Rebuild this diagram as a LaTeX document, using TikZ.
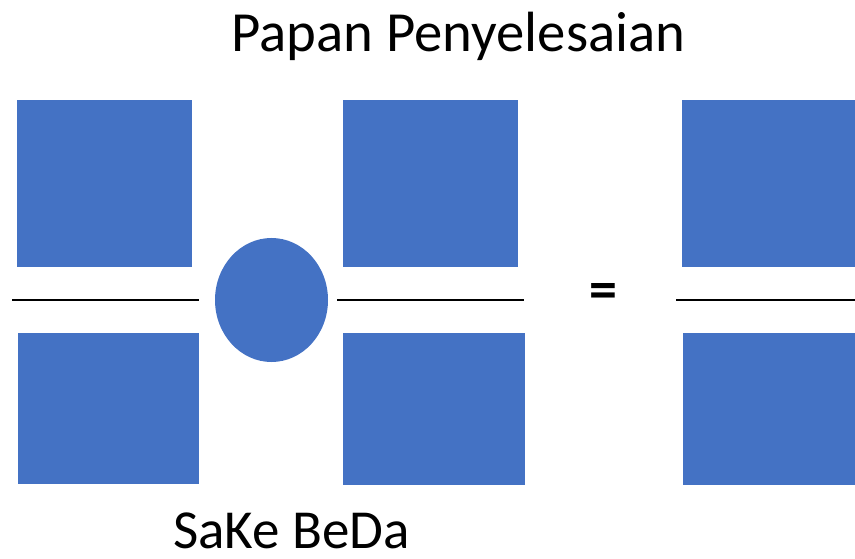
\documentclass[tikz,border=0pt]{standalone}
\usepackage{fontspec}
\setmainfont{Carlito}
\usetikzlibrary{shapes.geometric}
\definecolor{boxblue}{HTML}{4472C4}
\begin{document}
\begin{tikzpicture}[x=1pt,y=-1pt,
  tile/.style={fill=boxblue, draw=none, inner sep=0pt, outer sep=0pt, anchor=north west},
  bar/.style={draw=black, line width=2.6pt},
  label/.style={inner sep=0pt, anchor=base}]
\useasboundingbox (0,0) rectangle (855,559);
% title
\node[label, font=\fontsize{56.7}{66}\selectfont] (title) at (458.5,52) {Papan Penyelesaian};
% left fraction
\node[tile, minimum width=175pt, minimum height=167pt] (tl) at (17,100) {};
\node[tile, minimum width=181pt, minimum height=151pt] (bl) at (18,333) {};
\coordinate (l1) at (12,300); \coordinate (l2) at (199,300);
\draw[bar] (l1) -- (l2);
% operator circle
\node[fill=boxblue, draw=none, ellipse, inner sep=0pt, minimum width=113pt, minimum height=124pt] (op) at (271.5,300) {};
% middle fraction
\node[tile, minimum width=175pt, minimum height=167pt] (tm) at (343,100) {};
\node[tile, minimum width=182pt, minimum height=152pt] (bm) at (343,333) {};
\coordinate (m1) at (337,300); \coordinate (m2) at (524,300);
\draw[bar] (m1) -- (m2);
% equals
\node[inner sep=0pt, font=\bfseries\fontsize{56}{60}\selectfont] (eq) at (603,296) {=};
% right fraction
\node[tile, minimum width=173pt, minimum height=167pt] (tr) at (682,100) {};
\node[tile, minimum width=172pt, minimum height=152pt] (br) at (683,333) {};
\coordinate (r1) at (676,300); \coordinate (r2) at (855,300);
\draw[bar] (r1) -- (r2);
% bottom label
\node[label, text depth=0pt, font=\fontsize{55}{62}\selectfont] (sake) at (291.5,548) {SaKe BeDa};
\end{tikzpicture}
\end{document}
